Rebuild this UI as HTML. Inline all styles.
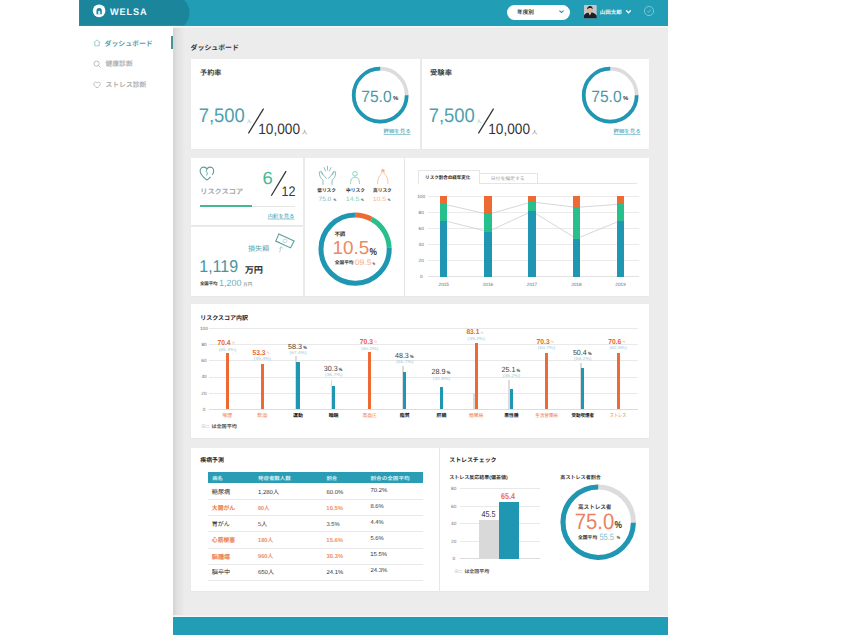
<!DOCTYPE html>
<html lang="ja"><head><meta charset="utf-8"><title>WELSA Dashboard</title>
<style>
html,body{margin:0;padding:0;background:#fff;}
body{width:855px;height:641px;position:relative;overflow:hidden;font-family:"Liberation Sans","Noto Sans CJK JP",sans-serif;}
body>div,body>svg{position:absolute;}
svg{overflow:visible;}
#txt text{white-space:pre;}
</style></head><body>
<div style="left:173px;top:25px;width:494.7px;height:592px;background:#ececec;"></div>
<div style="left:173px;top:25.5px;width:12px;height:591.5px;background:linear-gradient(90deg,rgba(0,0,0,0.10),rgba(0,0,0,0.05) 35%,rgba(0,0,0,0));"></div>
<div style="left:173px;top:25.6px;width:494.7px;height:2px;background:linear-gradient(180deg,#f7fbfb,#f3f5f5 60%,#ececec);"></div>
<div style="left:79.4px;top:0px;width:588.3px;height:25.5px;background:#219db6;"></div>
<svg style="left:80px;top:0" width="120" height="26" viewBox="0 0 120 26"><path d="M-0.6 0H104A17.4 17.4 0 0 1 104 25.5H-0.6Z" fill="#1a859b"/><circle cx="19.1" cy="10.85" r="6.35" fill="#fff"/><path d="M16.5 14.2V10.7A2.65 2.65 0 0 1 21.8 10.7V14.2Z" fill="#1a859b"/><path d="M18.1 14.4V11.8A1.1 1.1 0 0 1 20.3 11.8V14.4Z" fill="#d8f0f3"/></svg>
<div style="left:173px;top:614.9px;width:494.7px;height:2px;background:linear-gradient(0deg,#f7fbfb,#f1f3f3 50%,#ececec);"></div>
<div style="left:173px;top:616.8px;width:494.5px;height:18.5px;background:#219db6;"></div>
<div style="left:507.2px;top:4.5px;width:62.8px;height:15px;background:#fff;border-radius:7.5px;"></div>
<svg style="left:559px;top:10.4px" width="5" height="4" viewBox="0 0 5 4"><path d="M0.7 0.8L2.5 2.5L4.3 0.8" fill="none" stroke="#3f95a3" stroke-width="1.1" stroke-linecap="round" stroke-linejoin="round"/></svg>
<svg style="left:584.4px;top:4.8px" width="12.7" height="13.2" viewBox="0 0 12.7 13.2"><rect width="12.7" height="13.2" rx="0.8" fill="#c3c6ca"/><path d="M0 13.2V10.2C1 8.4 3 7.6 5.6 7.4S10.6 8.2 12.7 10.6V13.2Z" fill="#1d1f24"/><path d="M4.6 7.6L5.9 10.4L7.2 7.5Z" fill="#ececee"/><ellipse cx="5.9" cy="4.9" rx="2.5" ry="3" fill="#dcb59c"/><path d="M3.2 4.6C3 2.2 4.4 1 6 1S9 2 8.6 4.5C8.1 3.4 7.2 3 6 3S3.8 3.5 3.2 4.6Z" fill="#25201d"/></svg>
<svg style="left:625.9px;top:10.2px" width="5" height="4" viewBox="0 0 5 4"><path d="M0.6 0.8L2.5 2.9L4.4 0.8" fill="none" stroke="#fff" stroke-width="1.3" stroke-linecap="round" stroke-linejoin="round"/></svg>
<svg style="left:643.2px;top:4.9px" width="12" height="12" viewBox="0 0 12 12"><circle cx="6" cy="6" r="4.6" fill="none" stroke="#8fd0dc" stroke-width="0.8"/><path d="M4.4 6.1L5.6 7.4L7.7 4.7" fill="none" stroke="#8fd0dc" stroke-width="0.7"/></svg>
<div style="left:171px;top:36px;width:2.2px;height:13.2px;background:#4a9199;"></div>
<svg style="left:93px;top:39.4px" width="8" height="8" viewBox="0 0 8 8"><path d="M4 0.9L7.1 3.6H6.1V6.9H1.9V3.6H0.9Z" fill="none" stroke="#86c0c6" stroke-width="0.8" stroke-linejoin="round"/></svg>
<svg style="left:93px;top:59.6px" width="8" height="8" viewBox="0 0 8 8"><circle cx="3.6" cy="3.6" r="2.6" fill="none" stroke="#b8b8b8" stroke-width="0.9"/><path d="M5.6 5.6L7.2 7.2" stroke="#b8b8b8" stroke-width="0.9" stroke-linecap="round"/></svg>
<svg style="left:93px;top:80.8px" width="8" height="8" viewBox="0 0 8 8"><path d="M4 6.9C2 5.4 0.8 4.3 0.8 2.9C0.8 1.9 1.6 1.2 2.5 1.2C3.1 1.2 3.7 1.5 4 2.1C4.3 1.5 4.9 1.2 5.5 1.2C6.4 1.2 7.2 1.9 7.2 2.9C7.2 4.3 6 5.4 4 6.9Z" fill="none" stroke="#b8b8b8" stroke-width="0.9"/></svg>
<div style="left:190.7px;top:58.9px;width:229.3px;height:90.3px;background:#fff;box-shadow:0 0.5px 1.5px rgba(0,0,0,0.06);"></div>
<svg style="left:246px;top:106px" width="20" height="30" viewBox="0 0 20 30"><path d="M2.4 27.3L17.6 2.7" stroke="#333" stroke-width="1.25"/></svg>
<svg style="left:350.1px;top:64.9px" width="60.4" height="60.4" viewBox="-30.2 -30.2 60.4 60.4"><circle r="26.5" fill="none" stroke="#dcdcdc" stroke-width="3.7"/><path d="M26.50 -0.00A26.5 26.5 0 1 1 -0.00 -26.50" fill="none" stroke="#1f97b3" stroke-width="3.7"/></svg>
<div style="left:421.6px;top:58.9px;width:227.8px;height:90.3px;background:#fff;box-shadow:0 0.5px 1.5px rgba(0,0,0,0.06);"></div>
<svg style="left:476px;top:106px" width="20" height="30" viewBox="0 0 20 30"><path d="M2.4 27.3L17.6 2.7" stroke="#333" stroke-width="1.25"/></svg>
<svg style="left:580.1px;top:64.9px" width="60.4" height="60.4" viewBox="-30.2 -30.2 60.4 60.4"><circle r="26.5" fill="none" stroke="#dcdcdc" stroke-width="3.7"/><path d="M26.50 -0.00A26.5 26.5 0 1 1 -0.00 -26.50" fill="none" stroke="#1f97b3" stroke-width="3.7"/></svg>
<div style="left:190.7px;top:157.5px;width:112.8px;height:67.9px;background:#fff;box-shadow:0 0.5px 1.5px rgba(0,0,0,0.06);"></div>
<svg style="left:199.4px;top:166.3px" width="16" height="15" viewBox="0 0 16 15"><path d="M7.9 14.1C3.4 10.6 1.1 8.2 1.1 5C1.1 2.8 2.8 1.1 4.8 1.1C6.1 1.1 7.3 1.9 7.9 3.1C8.5 1.9 9.7 1.1 11 1.1C13 1.1 14.7 2.8 14.7 5C14.7 6.4 14.2 7.7 13.2 9M11.6 10.9C10.6 11.9 9.4 12.9 7.9 14.1" fill="none" stroke="#5f9c98" stroke-width="1.1"/><path d="M7.9 3.2L7.1 5.8L8.6 6.9L7.5 9.6" fill="none" stroke="#5f9c98" stroke-width="0.8"/></svg>
<svg style="left:268px;top:168px" width="22" height="30" viewBox="0 0 22 30"><path d="M3.3 27.7L18.1 3.1" stroke="#333" stroke-width="1.25"/></svg>
<div style="left:200px;top:205.5px;width:95px;height:0.8px;background:#e6e6e6;"></div>
<div style="left:200px;top:204.9px;width:51.6px;height:1.9px;background:#45b892;"></div>
<div style="left:190.7px;top:226.9px;width:112.8px;height:68.8px;background:#fff;box-shadow:0 0.5px 1.5px rgba(0,0,0,0.06);"></div>
<svg style="left:275px;top:232.5px" width="21" height="21" viewBox="0 0 21 21"><g fill="none"><path d="M3.9 0.9L19.1 7.9L15.6 14.9L0.8 8.1Z" stroke="#5a9e9e" stroke-width="1.1"/><ellipse cx="10" cy="7.9" rx="2" ry="1.7" stroke="#a5cfd2" stroke-width="0.7"/><path d="M4.6 19.4L6 14.2M4.4 15.6L6.2 13.6L7.8 15.6" stroke="#a9c9c9" stroke-width="0.8"/></g></svg>
<div style="left:305.3px;top:157.5px;width:98.3px;height:138.2px;background:#fff;box-shadow:0 0.5px 1.5px rgba(0,0,0,0.06);"></div>
<svg style="left:317px;top:165px" width="21" height="20" viewBox="0 0 21 20"><g fill="none" stroke="#6fb0b3" stroke-width="0.8" stroke-linecap="round"><path d="M6 19.5V15.2C3.2 13 2 10 2.4 6.8C4 6.6 5 7.8 5.4 9.6"/><path d="M4.2 6.2C5.4 8.6 7 11.4 9.6 13.4"/><path d="M15 19.5V15.2C17.8 13 19 10 18.6 6.8C17 6.6 16 7.8 15.6 9.6"/><path d="M16.8 6.2C15.6 8.6 14 11.4 11.4 13.4"/><path d="M10.5 1.2V5M7 2.6L8.6 6M14 2.6L12.4 6"/></g></svg>
<svg style="left:349px;top:169.5px" width="12" height="14" viewBox="0 0 12 14"><g fill="none" stroke="#5cc3a2" stroke-width="0.7"><circle cx="6" cy="3.8" r="2.3"/><path d="M1.6 14C1.4 9.6 3 7.2 6 7.2S10.6 9.6 10.4 14"/></g></svg>
<svg style="left:374.5px;top:166.5px" width="15" height="17" viewBox="0 0 15 17"><g fill="none" stroke="#f2a98e" stroke-width="0.7"><path d="M2.6 17C2.4 12 4 8.8 6.4 7C7 6.2 6.8 5.4 6.6 4.6"/><path d="M13 17C13.2 12 11.8 8.8 9.4 7C8.8 6.2 9 5.4 9.2 4.6"/></g><path d="M6.4 2.4H9.4V4.8H6.4Z" fill="#f2a98e"/></svg>
<svg style="left:315.8px;top:210.4px" width="78.2" height="78.2" viewBox="-39.1 -39.1 78.2 78.2"><path d="M0.00 -34.10A34.1 34.1 0 0 1 16.53 -29.82" fill="none" stroke="#ee6a34" stroke-width="5"/><path d="M16.53 -29.82A34.1 34.1 0 0 1 34.08 -1.19" fill="none" stroke="#27c08c" stroke-width="5"/><path d="M34.08 -1.19A34.1 34.1 0 1 1 -0.00 -34.10" fill="none" stroke="#1f97b3" stroke-width="5"/></svg>
<div style="left:405.2px;top:157.5px;width:244.2px;height:138.2px;background:#fff;box-shadow:0 0.5px 1.5px rgba(0,0,0,0.06);"></div>
<div style="left:479px;top:173.4px;width:58.9px;height:10.4px;background:#fff;border:0.6px solid #e4e4e4;box-sizing:border-box;"></div>
<div style="left:417.6px;top:183.2px;width:219.7px;height:0.6px;background:#e4e4e4;"></div>
<div style="left:417.6px;top:169.9px;width:62px;height:13.9px;background:#fff;border:0.6px solid #e6e6e6;border-bottom:none;box-sizing:border-box;"></div>
<div style="left:428px;top:276.3px;width:211.4px;height:0.6px;background:#e2e2e2;"></div>
<div style="left:428px;top:260.24px;width:211.4px;height:0.6px;background:#ebebeb;"></div>
<div style="left:428px;top:244.18px;width:211.4px;height:0.6px;background:#ebebeb;"></div>
<div style="left:428px;top:228.12px;width:211.4px;height:0.6px;background:#ebebeb;"></div>
<div style="left:428px;top:212.06px;width:211.4px;height:0.6px;background:#ebebeb;"></div>
<div style="left:428px;top:196.0px;width:211.4px;height:0.6px;background:#ebebeb;"></div>
<svg style="left:405px;top:150px" width="245" height="146" viewBox="0 0 245 146"><polyline points="38.8,70.55 83.0,81.63 127.0,61.24 171.4,88.70 215.6,70.55" fill="none" stroke="#d0d0d0" stroke-width="0.85"/><polyline points="38.8,54.09 83.0,64.29 127.0,51.92 171.4,57.38 215.6,54.09" fill="none" stroke="#d0d0d0" stroke-width="0.85"/></svg>
<div style="left:440.1px;top:196.3px;width:7.4px;height:7.79px;background:#ee6a34;"></div>
<div style="left:440.1px;top:204.09px;width:7.4px;height:16.46px;background:#27c08c;"></div>
<div style="left:440.1px;top:220.55px;width:7.4px;height:56.05px;background:#1f97b3;"></div>
<div style="left:484.3px;top:196.3px;width:7.4px;height:17.99px;background:#ee6a34;"></div>
<div style="left:484.3px;top:214.29px;width:7.4px;height:17.34px;background:#27c08c;"></div>
<div style="left:484.3px;top:231.63px;width:7.4px;height:44.97px;background:#1f97b3;"></div>
<div style="left:528.3px;top:196.3px;width:7.4px;height:5.62px;background:#ee6a34;"></div>
<div style="left:528.3px;top:201.92px;width:7.4px;height:9.31px;background:#27c08c;"></div>
<div style="left:528.3px;top:211.24px;width:7.4px;height:65.36px;background:#1f97b3;"></div>
<div style="left:572.7px;top:196.3px;width:7.4px;height:11.08px;background:#ee6a34;"></div>
<div style="left:572.7px;top:207.38px;width:7.4px;height:31.32px;background:#27c08c;"></div>
<div style="left:572.7px;top:238.7px;width:7.4px;height:37.9px;background:#1f97b3;"></div>
<div style="left:616.9px;top:196.3px;width:7.4px;height:7.79px;background:#ee6a34;"></div>
<div style="left:616.9px;top:204.09px;width:7.4px;height:16.46px;background:#27c08c;"></div>
<div style="left:616.9px;top:220.55px;width:7.4px;height:56.05px;background:#1f97b3;"></div>
<div style="left:190.7px;top:304.2px;width:458.8px;height:133.7px;background:#fff;box-shadow:0 0.5px 1.5px rgba(0,0,0,0.06);"></div>
<div style="left:209.3px;top:408.7px;width:428.6px;height:0.6px;background:#dcdcdc;"></div>
<div style="left:209.3px;top:392.6px;width:428.6px;height:0.6px;background:#e9e9e9;"></div>
<div style="left:209.3px;top:376.5px;width:428.6px;height:0.6px;background:#e9e9e9;"></div>
<div style="left:209.3px;top:360.4px;width:428.6px;height:0.6px;background:#e9e9e9;"></div>
<div style="left:209.3px;top:344.3px;width:428.6px;height:0.6px;background:#e9e9e9;"></div>
<div style="left:209.3px;top:328.2px;width:428.6px;height:0.6px;background:#e9e9e9;"></div>
<div style="left:225.8px;top:352.6px;width:3.2px;height:56.4px;background:#ee6a34;"></div>
<div style="left:260.7px;top:364.0px;width:3.2px;height:45.0px;background:#ee6a34;"></div>
<div style="left:294.9px;top:356.3px;width:1.9px;height:52.7px;background:#dcdcdc;"></div>
<div style="left:296.4px;top:362.4px;width:3.2px;height:46.6px;background:#1f97b3;"></div>
<div style="left:330.5px;top:380.4px;width:1.9px;height:28.6px;background:#dcdcdc;"></div>
<div style="left:332.0px;top:386.3px;width:3.2px;height:22.7px;background:#1f97b3;"></div>
<div style="left:368.1px;top:352.3px;width:3.2px;height:56.7px;background:#ee6a34;"></div>
<div style="left:401.7px;top:366.4px;width:1.9px;height:42.6px;background:#dcdcdc;"></div>
<div style="left:403.2px;top:371.5px;width:3.2px;height:37.5px;background:#1f97b3;"></div>
<div style="left:439.9px;top:387.0px;width:3.2px;height:22.0px;background:#1f97b3;"></div>
<div style="left:473.1px;top:393.3px;width:1.9px;height:15.7px;background:#dcdcdc;"></div>
<div style="left:474.6px;top:343.0px;width:3.2px;height:66.0px;background:#ee6a34;"></div>
<div style="left:508.3px;top:380.4px;width:1.9px;height:28.6px;background:#dcdcdc;"></div>
<div style="left:509.8px;top:389.3px;width:3.2px;height:19.7px;background:#1f97b3;"></div>
<div style="left:544.9px;top:352.8px;width:3.2px;height:56.2px;background:#ee6a34;"></div>
<div style="left:579.7px;top:363.3px;width:1.9px;height:45.7px;background:#dcdcdc;"></div>
<div style="left:581.2px;top:368.3px;width:3.2px;height:40.7px;background:#1f97b3;"></div>
<div style="left:616.5px;top:352.8px;width:3.2px;height:56.2px;background:#ee6a34;"></div>
<div style="left:190.7px;top:447.9px;width:248.3px;height:142.8px;background:#fff;box-shadow:0 0.5px 1.5px rgba(0,0,0,0.06);"></div>
<div style="left:207.5px;top:472px;width:215.5px;height:11px;background:#2a9cb4;"></div>
<div style="left:207.5px;top:499.2px;width:215.5px;height:0.6px;background:#e9e9e9;"></div>
<div style="left:207.5px;top:515.4px;width:215.5px;height:0.6px;background:#e9e9e9;"></div>
<div style="left:207.5px;top:531.4px;width:215.5px;height:0.6px;background:#e9e9e9;"></div>
<div style="left:207.5px;top:547.7px;width:215.5px;height:0.6px;background:#e9e9e9;"></div>
<div style="left:207.5px;top:563.9px;width:215.5px;height:0.6px;background:#e9e9e9;"></div>
<div style="left:207.5px;top:580.2px;width:215.5px;height:0.6px;background:#e9e9e9;"></div>
<div style="left:440.2px;top:447.9px;width:209.2px;height:142.8px;background:#fff;box-shadow:0 0.5px 1.5px rgba(0,0,0,0.06);"></div>
<div style="left:460px;top:558.4px;width:80px;height:0.6px;background:#dcdcdc;"></div>
<div style="left:460px;top:540.9px;width:80px;height:0.6px;background:#e9e9e9;"></div>
<div style="left:460px;top:523.4px;width:80px;height:0.6px;background:#e9e9e9;"></div>
<div style="left:460px;top:505.9px;width:80px;height:0.6px;background:#e9e9e9;"></div>
<div style="left:460px;top:488.4px;width:80px;height:0.6px;background:#e9e9e9;"></div>
<div style="left:479.2px;top:520px;width:19.6px;height:38.7px;background:#d9d9d9;"></div>
<div style="left:499.1px;top:502.4px;width:20.1px;height:56.3px;background:#1f97b3;"></div>
<svg style="left:558.4px;top:481.8px" width="80.4" height="80.4" viewBox="-40.2 -40.2 80.4 80.4"><circle r="35.2" fill="none" stroke="#dcdcdc" stroke-width="5"/><path d="M35.19 0.61A35.2 35.2 0 1 1 -0.00 -35.20" fill="none" stroke="#1f97b3" stroke-width="5"/></svg>
<svg id="txt" width="855" height="641" viewBox="0 0 855 641" style="left:0;top:0" text-rendering="geometricPrecision" font-family="'Liberation Sans','Noto Sans CJK JP',sans-serif">
<text transform="translate(109.99 14.65) scale(0.9588 1)" font-size="9.59" fill="#f4fbfc" font-weight="bold" letter-spacing="0.9">WELSA</text>
<text x="517.08" y="14.03" font-size="5.6" font-weight="bold" fill="#333">年度別</text>
<text x="599.78" y="13.79" font-size="5.5" font-weight="bold" fill="#f2fafb">山田太郎</text>
<text x="104.52" y="45.52" font-size="6.9" font-weight="bold" fill="#5aa0ab">ダッシュボード</text>
<text x="105.53" y="66.08" font-size="6.8" font-weight="bold" fill="#b2b2b2">健康診断</text>
<text x="105.53" y="87.38" font-size="6.8" font-weight="bold" fill="#b2b2b2">ストレス診断</text>
<text x="190.62" y="50.32" font-size="6.9" font-weight="bold" fill="#333">ダッシュボード</text>
<text x="200.12" y="75.36" font-size="7.05" font-weight="bold" fill="#3c3c3c">予約率</text>
<text transform="translate(198.65 122.30) scale(0.9403 1)" font-size="19.62" fill="#4fa0ad">7,500</text>
<text x="246.41" y="122.62" font-size="4.8" fill="#7ab8c2">人</text>
<text transform="translate(258.26 133.70) scale(0.9123 1)" font-size="14.97" fill="#333">10,000</text>
<text x="302.09" y="133.58" font-size="5.2" fill="#777">人</text>
<text transform="translate(361.20 101.50) scale(0.9598 1)" font-size="16.28" fill="#4a9aa6">75.0</text>
<text transform="translate(392.95 100.10) scale(1.0289 1)" font-size="5.8" fill="#333" font-weight="bold">%</text>
<text x="383.58" y="133.05" font-size="5.4" fill="#3fa0b4" text-decoration="underline">詳細を見る</text>
<text transform="translate(430.11 75.36) scale(1.037 1)" font-size="7" font-weight="bold" fill="#3c3c3c">受験率</text>
<text transform="translate(428.65 122.30) scale(0.9403 1)" font-size="19.62" fill="#4fa0ad">7,500</text>
<text x="476.41" y="122.62" font-size="4.8" fill="#7ab8c2">人</text>
<text transform="translate(488.26 133.70) scale(0.9123 1)" font-size="14.97" fill="#333">10,000</text>
<text x="532.09" y="133.58" font-size="5.2" fill="#777">人</text>
<text transform="translate(591.20 101.50) scale(0.9598 1)" font-size="16.28" fill="#4a9aa6">75.0</text>
<text transform="translate(622.95 100.10) scale(1.0289 1)" font-size="5.8" fill="#333" font-weight="bold">%</text>
<text x="613.58" y="133.05" font-size="5.4" fill="#3fa0b4" text-decoration="underline">詳細を見る</text>
<text transform="translate(200.21 193.80) scale(1.014 1)" font-size="7.1" font-weight="bold" fill="#a0aeae">リスクスコア</text>
<text transform="translate(262.46 184.20) scale(1.0473 1)" font-size="17.59" fill="#45b892">6</text>
<text transform="translate(281.44 195.70) scale(0.9108 1)" font-size="13.81" fill="#3a3a3a">12</text>
<text transform="translate(267.79 217.75) scale(0.985 1)" font-size="5.4" fill="#3fa0b4" text-decoration="underline">内訳を見る</text>
<text transform="translate(248.02 251.22) scale(1.026 1)" font-size="6.9" fill="#55a6b3">損失額</text>
<text transform="translate(199.28 272.10) scale(0.9314 1)" font-size="17.15" fill="#4595a0">1,119</text>
<text transform="translate(244.63 272.74) scale(1.048 1)" font-size="8.8" font-weight="bold" fill="#333">万円</text>
<text x="199.92" y="285.27" font-size="4.4" font-weight="bold" fill="#333">全国平均</text>
<text transform="translate(219.12 285.70) scale(0.9903 1)" font-size="9.01" fill="#6fb3be">1,200</text>
<text transform="translate(243.12 285.97) scale(1.032 1)" font-size="4.4" fill="#666">万円</text>
<text transform="translate(317.21 192.16) scale(0.959 1)" font-size="4.9" font-weight="bold" fill="#333">低リスク</text>
<text transform="translate(346.11 192.16) scale(0.959 1)" font-size="4.9" font-weight="bold" fill="#333">中リスク</text>
<text transform="translate(373.01 192.16) scale(0.959 1)" font-size="4.9" font-weight="bold" fill="#333">高リスク</text>
<text transform="translate(318.57 200.50) scale(1.0688 1)" font-size="6.1" fill="#7dbeca">75.0</text>
<text transform="translate(333.62 200.64) scale(0.8620 1)" font-size="3.6" fill="#333" font-weight="bold">%</text>
<text transform="translate(345.77 200.50) scale(1.1389 1)" font-size="6.1" fill="#7fd0b4">14.5</text>
<text transform="translate(360.92 200.64) scale(0.8620 1)" font-size="3.6" fill="#333" font-weight="bold">%</text>
<text transform="translate(372.68 200.50) scale(1.1299 1)" font-size="6.1" fill="#f4b49e">10.5</text>
<text transform="translate(387.82 200.64) scale(0.8620 1)" font-size="3.6" fill="#333" font-weight="bold">%</text>
<text x="334.38" y="236.25" font-size="5.45" font-weight="bold" fill="#333">不調</text>
<text transform="translate(332.47 254.10) scale(1.0036 1)" font-size="18.75" fill="#ec8a62">10.5</text>
<text transform="translate(369.49 254.74) scale(0.8354 1)" font-size="10" fill="#333" font-weight="bold">%</text>
<text x="334.81" y="264.39" font-size="4.7" font-weight="bold" fill="#333">全国平均</text>
<text transform="translate(354.87 265.30) scale(1.0859 1)" font-size="7.85" fill="#f3ae95">09.5</text>
<text transform="translate(372.43 265.11) scale(0.7538 1)" font-size="3.8" fill="#333" font-weight="bold">%</text>
<text transform="translate(425.12 179.35) scale(0.983 1)" font-size="4.6" font-weight="bold" fill="#2a2a2a">リスク割合の経年変化</text>
<text transform="translate(490.81 180.35) scale(1.048 1)" font-size="4.6" fill="#a2a2a2">日付を指定する</text>
<text transform="translate(419.89 278.22)" font-size="4.7" fill="#6a6a6a">0</text>
<text transform="translate(418.56 262.16)" font-size="4.7" fill="#6a6a6a">20</text>
<text transform="translate(418.62 246.10)" font-size="4.7" fill="#6a6a6a">40</text>
<text transform="translate(418.56 230.04)" font-size="4.7" fill="#6a6a6a">60</text>
<text transform="translate(418.58 213.98)" font-size="4.7" fill="#6a6a6a">80</text>
<text transform="translate(417.19 197.92)" font-size="4.7" fill="#6a6a6a">100</text>
<text transform="translate(438.55 285.82)" font-size="4.7" fill="#6a6a6a">2015</text>
<text transform="translate(482.76 285.82)" font-size="4.7" fill="#6a6a6a">2016</text>
<text transform="translate(526.77 285.82)" font-size="4.7" fill="#6a6a6a">2017</text>
<text transform="translate(571.16 285.82)" font-size="4.7" fill="#6a6a6a">2018</text>
<text transform="translate(615.37 285.82)" font-size="4.7" fill="#6a6a6a">2019</text>
<text transform="translate(200.36 319.62) scale(0.98 1)" font-size="6.1" font-weight="bold" fill="#222">リスクスコア内訳</text>
<text transform="translate(202.69 410.62)" font-size="4.7" fill="#6a6a6a">0</text>
<text transform="translate(201.36 394.52)" font-size="4.7" fill="#6a6a6a">20</text>
<text transform="translate(201.42 378.42)" font-size="4.7" fill="#6a6a6a">40</text>
<text transform="translate(201.36 362.32)" font-size="4.7" fill="#6a6a6a">60</text>
<text transform="translate(201.38 346.22)" font-size="4.7" fill="#6a6a6a">80</text>
<text transform="translate(199.99 330.12)" font-size="4.7" fill="#6a6a6a">100</text>
<text transform="translate(217.51 345.05) scale(0.9324 1)" font-size="7.12" fill="#e8632f" font-weight="bold">70.4</text>
<text transform="translate(231.89 344.44) scale(0.8831 1)" font-size="3.6" fill="#f0a184">%</text>
<text transform="translate(218.69 350.78) scale(1.1568 1)" font-size="4.3" fill="#9ccbd5">(65.4%)</text>
<text x="222.45" y="417.16" font-size="4.94" fill="#ee7c4e">喫煙</text>
<text transform="translate(252.49 354.75) scale(0.9416 1)" font-size="7.12" fill="#e8632f" font-weight="bold">53.3</text>
<text transform="translate(266.79 354.14) scale(0.8831 1)" font-size="3.6" fill="#f0a184">%</text>
<text transform="translate(253.59 360.38) scale(1.1568 1)" font-size="4.3" fill="#9ccbd5">(49.4%)</text>
<text x="257.35" y="417.16" font-size="4.94" fill="#ee7c4e">飲酒</text>
<text transform="translate(288.11 348.55) scale(0.9638 1)" font-size="7.41" fill="#3a3a3a">58.3</text>
<text transform="translate(303.20 348.55) scale(0.8454 1)" font-size="4.8" fill="#333" font-weight="bold">%</text>
<text transform="translate(289.29 353.78) scale(1.1568 1)" font-size="4.3" fill="#9ccbd5">(67.4%)</text>
<text x="293.05" y="417.16" font-size="4.94" font-weight="bold" fill="#222">運動</text>
<text transform="translate(323.73 371.25) scale(0.9628 1)" font-size="7.41" fill="#3a3a3a">30.3</text>
<text transform="translate(338.80 371.25) scale(0.8454 1)" font-size="4.8" fill="#333" font-weight="bold">%</text>
<text transform="translate(324.89 376.08) scale(1.1568 1)" font-size="4.3" fill="#9ccbd5">(35.7%)</text>
<text x="328.65" y="417.16" font-size="4.94" font-weight="bold" fill="#222">睡眠</text>
<text transform="translate(359.81 343.75) scale(0.9478 1)" font-size="7.12" fill="#e8632f" font-weight="bold">70.3</text>
<text transform="translate(374.19 343.14) scale(0.8831 1)" font-size="3.6" fill="#f0a184">%</text>
<text transform="translate(360.99 349.88) scale(1.1568 1)" font-size="4.3" fill="#9ccbd5">(60.2%)</text>
<text transform="translate(362.51 417.16) scale(0.98 1)" font-size="4.9" fill="#ee7c4e">高血圧</text>
<text transform="translate(395.04 357.95) scale(0.9550 1)" font-size="7.41" fill="#3a3a3a">48.3</text>
<text transform="translate(410.00 357.95) scale(0.8454 1)" font-size="4.8" fill="#333" font-weight="bold">%</text>
<text transform="translate(396.09 363.18) scale(1.1568 1)" font-size="4.3" fill="#9ccbd5">(55.7%)</text>
<text x="399.85" y="417.16" font-size="4.94" font-weight="bold" fill="#222">脂質</text>
<text transform="translate(431.54 374.05) scale(0.9709 1)" font-size="7.41" fill="#3a3a3a">28.9</text>
<text transform="translate(446.70 374.05) scale(0.8454 1)" font-size="4.8" fill="#333" font-weight="bold">%</text>
<text transform="translate(432.79 379.58) scale(1.1568 1)" font-size="4.3" fill="#9ccbd5">(32.5%)</text>
<text x="436.55" y="417.16" font-size="4.94" font-weight="bold" fill="#222">肝臓</text>
<text transform="translate(466.39 334.15) scale(0.9380 1)" font-size="7.12" fill="#e8632f" font-weight="bold">83.1</text>
<text transform="translate(480.69 333.54) scale(0.8831 1)" font-size="3.6" fill="#f0a184">%</text>
<text transform="translate(467.49 339.78) scale(1.1568 1)" font-size="4.3" fill="#9ccbd5">(39.2%)</text>
<text transform="translate(469.01 417.16) scale(0.98 1)" font-size="4.9" fill="#ee7c4e">糖尿病</text>
<text transform="translate(501.44 372.45) scale(0.9717 1)" font-size="7.41" fill="#3a3a3a">25.1</text>
<text transform="translate(516.60 372.45) scale(0.8454 1)" font-size="4.8" fill="#333" font-weight="bold">%</text>
<text transform="translate(502.69 377.18) scale(1.1568 1)" font-size="4.3" fill="#9ccbd5">(36.2%)</text>
<text transform="translate(504.21 417.16) scale(0.98 1)" font-size="4.9" font-weight="bold" fill="#222">悪性腫</text>
<text transform="translate(536.61 343.55) scale(0.9478 1)" font-size="7.12" fill="#e8632f" font-weight="bold">70.3</text>
<text transform="translate(550.99 342.94) scale(0.8831 1)" font-size="3.6" fill="#f0a184">%</text>
<text transform="translate(537.79 349.18) scale(1.1568 1)" font-size="4.3" fill="#9ccbd5">(50.7%)</text>
<text transform="translate(535.22 417.16) scale(0.922 1)" font-size="4.9" fill="#ee7c4e">生活習慣病</text>
<text transform="translate(572.92 354.85) scale(0.9563 1)" font-size="7.41" fill="#3a3a3a">50.4</text>
<text transform="translate(588.00 354.85) scale(0.8454 1)" font-size="4.8" fill="#333" font-weight="bold">%</text>
<text transform="translate(574.09 360.18) scale(1.1568 1)" font-size="4.3" fill="#9ccbd5">(56.2%)</text>
<text transform="translate(571.52 417.16) scale(0.922 1)" font-size="4.9" font-weight="bold" fill="#222">受動喫煙者</text>
<text transform="translate(608.21 343.55) scale(0.9478 1)" font-size="7.12" fill="#e8632f" font-weight="bold">70.6</text>
<text transform="translate(622.59 342.94) scale(0.8831 1)" font-size="3.6" fill="#f0a184">%</text>
<text transform="translate(609.39 349.18) scale(1.1568 1)" font-size="4.3" fill="#9ccbd5">(62.6%)</text>
<text transform="translate(609.78 417.16) scale(0.849 1)" font-size="4.9" fill="#ee7c4e">ストレス</text>
<text x="201.00" y="427.60" font-size="5" fill="#b0b0b0">※□</text>
<text transform="translate(211.40 427.60) scale(1.016 1)" font-size="5" font-weight="bold" fill="#555">は全国平均</text>
<text transform="translate(200.26 461.88) scale(0.987 1)" font-size="6" font-weight="bold" fill="#222">疾病予測</text>
<text transform="translate(212.29 479.54) scale(1.02 1)" font-size="5.1" font-weight="bold" fill="#d9eef2">病名</text>
<text transform="translate(257.98 479.54) scale(1.071 1)" font-size="5.1" font-weight="bold" fill="#d9eef2">発症者数人数</text>
<text transform="translate(326.49 479.54) scale(1.051 1)" font-size="5.1" font-weight="bold" fill="#d9eef2">割合</text>
<text transform="translate(370.48 479.54) scale(1.098 1)" font-size="5.1" font-weight="bold" fill="#d9eef2">割合の全国平均</text>
<text x="211.75" y="494.32" font-size="6.16" fill="#2a2a2a">糖尿病</text>
<text transform="translate(257.96 494.24) scale(1.017 1)" font-size="5.9" fill="#333">1,280人</text>
<text transform="translate(326.40 494.03) scale(1.0050 1)" font-size="5.9" fill="#333">60.0%</text>
<text transform="translate(370.40 492.23) scale(1.0052 1)" font-size="5.9" fill="#333">70.2%</text>
<text transform="translate(211.77 509.82) scale(0.961 1)" font-size="6.1" font-weight="bold" fill="#ee7c4e">大腸がん</text>
<text transform="translate(257.98 509.74) scale(0.929 1)" font-size="5.9" font-weight="bold" fill="#f0906a">80人</text>
<text transform="translate(326.33 509.53) scale(1.0061 1)" font-size="5.9" fill="#f0906a" font-weight="bold">10.5%</text>
<text transform="translate(370.45 507.73) scale(0.9860 1)" font-size="5.9" fill="#333">8.6%</text>
<text transform="translate(211.76 526.02) scale(0.984 1)" font-size="6.1" fill="#2a2a2a">胃がん</text>
<text x="257.96" y="525.94" font-size="5.96" fill="#333">5人</text>
<text transform="translate(326.48 525.73) scale(0.9836 1)" font-size="5.9" fill="#333">3.5%</text>
<text transform="translate(370.57 523.93) scale(0.9769 1)" font-size="5.9" fill="#333">4.4%</text>
<text transform="translate(211.77 542.32) scale(0.961 1)" font-size="6.1" font-weight="bold" fill="#ee7c4e">心筋梗塞</text>
<text transform="translate(257.97 542.24) scale(0.976 1)" font-size="5.9" font-weight="bold" fill="#f0906a">180人</text>
<text transform="translate(326.33 542.03) scale(1.0061 1)" font-size="5.9" fill="#f0906a" font-weight="bold">15.6%</text>
<text transform="translate(370.47 540.23) scale(0.9845 1)" font-size="5.9" fill="#333">5.6%</text>
<text x="211.75" y="558.52" font-size="6.16" font-weight="bold" fill="#ee7c4e">脳腫瘍</text>
<text transform="translate(257.97 558.44) scale(0.976 1)" font-size="5.9" font-weight="bold" fill="#f0906a">960人</text>
<text transform="translate(326.57 558.23) scale(0.9916 1)" font-size="5.9" fill="#f0906a" font-weight="bold">30.3%</text>
<text transform="translate(370.24 556.43) scale(1.0143 1)" font-size="5.9" fill="#333">15.5%</text>
<text x="211.75" y="574.32" font-size="6.16" fill="#2a2a2a">脳卒中</text>
<text transform="translate(257.96 574.24) scale(1.017 1)" font-size="5.9" fill="#333">650人</text>
<text transform="translate(326.40 574.03) scale(1.0048 1)" font-size="5.9" fill="#333">24.1%</text>
<text transform="translate(370.40 572.23) scale(1.0048 1)" font-size="5.9" fill="#333">24.3%</text>
<text transform="translate(449.26 461.88) scale(0.983 1)" font-size="6" font-weight="bold" fill="#222">ストレスチェック</text>
<text x="449.30" y="478.70" font-size="5" font-weight="bold" fill="#333">ストレス反応結果(偏差値)</text>
<text transform="translate(452.39 560.32)" font-size="4.7" fill="#6a6a6a">0</text>
<text transform="translate(451.06 542.82)" font-size="4.7" fill="#6a6a6a">20</text>
<text transform="translate(451.12 525.32)" font-size="4.7" fill="#6a6a6a">40</text>
<text transform="translate(451.06 507.82)" font-size="4.7" fill="#6a6a6a">60</text>
<text transform="translate(451.08 490.32)" font-size="4.7" fill="#6a6a6a">80</text>
<text transform="translate(481.43 516.65) scale(0.8425 1)" font-size="8.58" fill="#444">45.5</text>
<text transform="translate(501.04 499.10) scale(0.8534 1)" font-size="8.43" fill="#ea6e40" font-weight="bold">65.4</text>
<text x="454.10" y="572.50" font-size="5" fill="#b0b0b0">※□</text>
<text x="464.40" y="572.50" font-size="4.96" font-weight="bold" fill="#555">は全国平均</text>
<text transform="translate(560.30 478.70) scale(1.016 1)" font-size="5" font-weight="bold" fill="#333">高ストレス者割合</text>
<text transform="translate(577.98 509.40) scale(0.962 1)" font-size="5.8" font-weight="bold" fill="#4a4a4a">高ストレス者</text>
<text transform="translate(574.76 528.55) scale(0.9109 1)" font-size="22.24" fill="#ea8160">75.0</text>
<text transform="translate(614.49 528.49) scale(0.8354 1)" font-size="10" fill="#333" font-weight="bold">%</text>
<text x="578.01" y="539.42" font-size="4.8" font-weight="bold" fill="#333">全国平均</text>
<text transform="translate(599.40 539.75) scale(0.8335 1)" font-size="9.01" fill="#86c2cf">55.5</text>
<text transform="translate(616.71 539.18) scale(0.8043 1)" font-size="4.6" fill="#333" font-weight="bold">%</text>
</svg>
</body></html>
